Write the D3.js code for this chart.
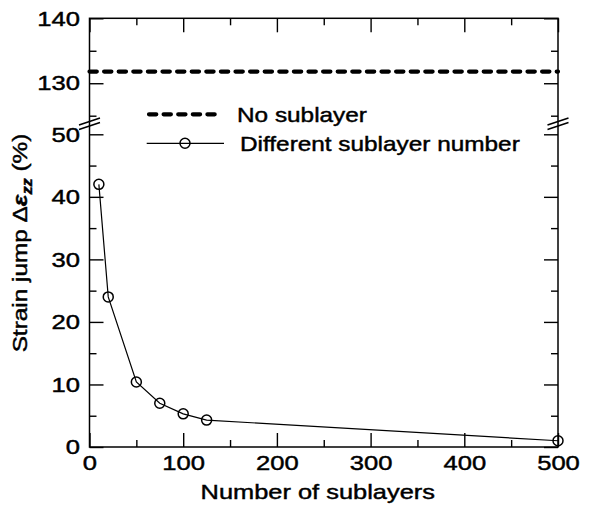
<!DOCTYPE html>
<html>
<head>
<meta charset="utf-8">
<script src="https://cdn.jsdelivr.net/npm/d3@7"></script>
<style>
  html, body { margin: 0; padding: 0; background: #fff; }
  svg { display: block; }
  text { font-family: "Liberation Sans", Arial, Helvetica, sans-serif; fill: #000; stroke: #000; stroke-width: 0.45px; }
</style>
</head>
<body>
<svg id="chart" width="590" height="510"></svg>
<script>
// Data
const sublayers = [10, 20, 50, 75, 100, 125, 500];
const strainJump = [42.0, 24.0, 10.4, 7.0, 5.3, 4.3, 1.0];
const noSublayerValue = 131.8;

const xMajorTicks = [0, 100, 200, 300, 400, 500];
const xMinorTicks = [50, 150, 250, 350, 450];
const yLowMajorTicks = [0, 10, 20, 30, 40, 50];
const yLowMinorTicks = [5, 15, 25, 35, 45];
const yHighMajorTicks = [130, 140];
const yHighMinorTicks = [125, 135];

const legendLabels = ["No sublayer", "Different sublayer number"];
const xTitle = "Number of sublayers";

// Layout
const svg = d3.select("#chart");
const W = 590, H = 510;
const plotLeft = 89.5, plotRight = 558, plotTop = 18.3, plotBottom = 447;
const SX = 1.16;         // horizontal text stretch (legend, titles)
const TSX = 1.22;        // horizontal stretch for tick labels
const FS = 21;           // font size
const MAJ = 14, MIN = 7; // tick lengths

svg.append("rect").attr("width", W).attr("height", H).attr("fill", "#fff");

const x = d3.scaleLinear().domain([0, 500]).range([plotLeft, plotRight]);
const yLow = d3.scaleLinear().domain([0, 50]).range([plotBottom, 134.3]);
const yHigh = d3.scaleLinear().domain([125, 140]).range([115.7, plotTop]);

function styleAxis(g) {
  g.select(".domain").remove();
  g.selectAll(".tick line").attr("stroke", "#000").attr("stroke-width", 1.4);
  g.selectAll("text").attr("font-size", FS).attr("font-family", null).attr("fill", "#000");
}

function addAxis(axis, tx, ty) {
  const g = svg.append("g").attr("transform", `translate(${tx},${ty})`).call(axis);
  styleAxis(g);
  return g;
}

// Bottom axis
const gb = addAxis(d3.axisBottom(x).tickValues(xMajorTicks).tickSizeInner(-MAJ).tickSizeOuter(0).tickPadding(8), 0, plotBottom);
gb.selectAll("text").attr("transform", `scale(${TSX},1)`);
addAxis(d3.axisBottom(x).tickValues(xMinorTicks).tickSizeInner(-MIN).tickSizeOuter(0).tickFormat(""), 0, plotBottom);

// Top axis
addAxis(d3.axisTop(x).tickValues(xMajorTicks).tickSizeInner(-MAJ).tickSizeOuter(0).tickFormat(""), 0, plotTop);
addAxis(d3.axisTop(x).tickValues(xMinorTicks).tickSizeInner(-MIN).tickSizeOuter(0).tickFormat(""), 0, plotTop);

// Left axes (lower and upper segments)
function leftLabels(g) {
  g.selectAll("text").attr("x", -9.5 / TSX).attr("transform", `scale(${TSX},1)`);
}
leftLabels(addAxis(d3.axisLeft(yLow).tickValues(yLowMajorTicks).tickSizeInner(-MAJ).tickSizeOuter(0), plotLeft, 0));
addAxis(d3.axisLeft(yLow).tickValues(yLowMinorTicks).tickSizeInner(-MIN).tickSizeOuter(0).tickFormat(""), plotLeft, 0);
leftLabels(addAxis(d3.axisLeft(yHigh).tickValues(yHighMajorTicks).tickSizeInner(-MAJ).tickSizeOuter(0), plotLeft, 0));
addAxis(d3.axisLeft(yHigh).tickValues(yHighMinorTicks).tickSizeInner(-MIN).tickSizeOuter(0).tickFormat(""), plotLeft, 0);

// Right axes
addAxis(d3.axisRight(yLow).tickValues(yLowMajorTicks).tickSizeInner(-MAJ).tickSizeOuter(0).tickFormat(""), plotRight, 0);
addAxis(d3.axisRight(yLow).tickValues(yLowMinorTicks).tickSizeInner(-MIN).tickSizeOuter(0).tickFormat(""), plotRight, 0);
addAxis(d3.axisRight(yHigh).tickValues(yHighMajorTicks).tickSizeInner(-MAJ).tickSizeOuter(0).tickFormat(""), plotRight, 0);
addAxis(d3.axisRight(yHigh).tickValues(yHighMinorTicks).tickSizeInner(-MIN).tickSizeOuter(0).tickFormat(""), plotRight, 0);

// Frame
svg.append("rect")
  .attr("x", plotLeft).attr("y", plotTop)
  .attr("width", plotRight - plotLeft).attr("height", plotBottom - plotTop)
  .attr("fill", "none").attr("stroke", "#000").attr("stroke-width", 1.5);

// Axis break marks
[plotLeft, plotRight].forEach(ax => {
  [121.5, 126].forEach(cy => {
    svg.append("line")
      .attr("x1", ax - 10.5).attr("y1", cy + 3.5)
      .attr("x2", ax + 10.5).attr("y2", cy - 3.5)
      .attr("stroke", "#000").attr("stroke-width", 1.4);
  });
});

// "No sublayer" reference line
svg.append("line")
  .attr("x1", x(0)).attr("x2", x(500))
  .attr("y1", yHigh(noSublayerValue)).attr("y2", yHigh(noSublayerValue))
  .attr("stroke", "#000").attr("stroke-width", 4.2)
  .attr("stroke-linecap", "round").attr("stroke-dasharray", "7.3,7.3");

// Sublayer series
const pts = sublayers.map((s, i) => [s, strainJump[i]]);
svg.append("path")
  .datum(pts)
  .attr("d", d3.line().x(d => x(d[0])).y(d => yLow(d[1])))
  .attr("fill", "none").attr("stroke", "#000").attr("stroke-width", 1.2);
svg.selectAll("circle.pt").data(pts).enter().append("circle")
  .attr("class", "pt")
  .attr("cx", d => x(d[0])).attr("cy", d => yLow(d[1]))
  .attr("r", 5).attr("fill", "none").attr("stroke", "#000").attr("stroke-width", 1.5);

// Legend
svg.append("line")
  .attr("x1", 149).attr("x2", 219).attr("y1", 114.3).attr("y2", 114.3)
  .attr("stroke", "#000").attr("stroke-width", 4.2)
  .attr("stroke-linecap", "round").attr("stroke-dasharray", "7.3,7.3");
svg.append("text")
  .attr("transform", `translate(237,122) scale(${SX},1)`)
  .attr("font-size", FS).text(legendLabels[0]);

svg.append("line")
  .attr("x1", 146.7).attr("x2", 224).attr("y1", 143.3).attr("y2", 143.3)
  .attr("stroke", "#000").attr("stroke-width", 1.2);
svg.append("circle")
  .attr("cx", 185).attr("cy", 143.3).attr("r", 5)
  .attr("fill", "none").attr("stroke", "#000").attr("stroke-width", 1.5);
svg.append("text")
  .attr("transform", `translate(240,150.5) scale(${SX},1)`)
  .attr("font-size", FS).text(legendLabels[1]);

// Axis titles
svg.append("text")
  .attr("transform", `translate(${(plotLeft + plotRight) / 2 - 6},499) scale(1.21,1)`)
  .attr("text-anchor", "middle").attr("font-size", 21).text(xTitle);

const yt = svg.append("text")
  .attr("transform", `translate(27,243) rotate(-90) scale(${SX},1)`)
  .attr("text-anchor", "middle").attr("font-size", 21);
yt.append("tspan").text("Strain jump ");
yt.append("tspan").text("Δ");
yt.append("tspan").attr("font-style", "italic").attr("font-weight", "bold").text("ε");
yt.append("tspan").attr("font-style", "italic").attr("font-weight", "bold")
  .attr("font-size", 14).attr("dy", 5).text("zz");
yt.append("tspan").attr("dy", -5).text(" (%)");
</script>
</body>
</html>
